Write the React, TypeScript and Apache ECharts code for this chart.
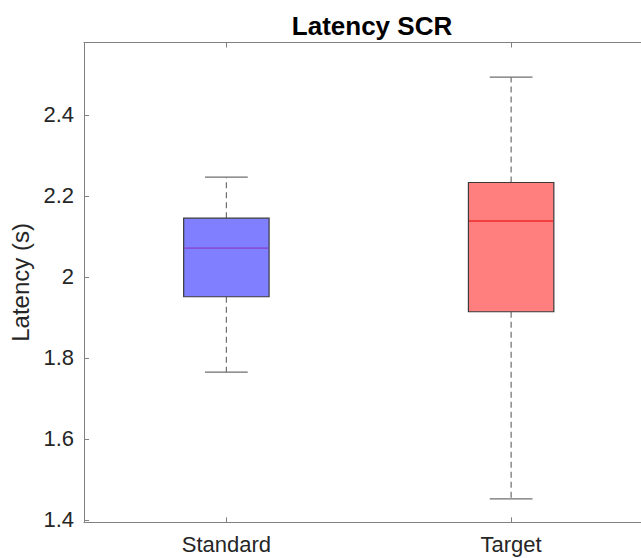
import React, { useEffect, useRef } from "react";
import * as echarts from "echarts";

const categories = ["Standard", "Target"];
// [low whisker, Q1, median, Q3, high whisker]
const standardStats = [1.765, 1.951, 2.071, 2.145, 2.246];
const targetStats = [1.452, 1.914, 2.138, 2.233, 2.493];
const yTicks = [1.4, 1.6, 1.8, 2.0, 2.2, 2.4];
const boxFills = ["#7f7fff", "#ff7f7f"];
const medianColors = ["#8a3fc4", "#ee2a2a"];

export default function App() {
  const ref = useRef<HTMLDivElement>(null);
  useEffect(() => {
    document.body.style.margin = "0";
    const chart = echarts.init(ref.current!, null, { renderer: "svg" });
    const data = [standardStats, targetStats].map((s, i) => [i, ...s]);
    const axisColor = "#808080";
    const labelColor = "#262626";
    const font = "Liberation Sans, Arial, sans-serif";
    chart.setOption({
      animation: false,
      title: {
        text: "Latency SCR",
        left: 367,
        top: 8,
        textAlign: "center",
        textStyle: { fontSize: 26, fontWeight: "bold", color: "#000", fontFamily: font },
      },
      grid: { left: 84, top: 42.5, width: 569.5, height: 479.8, outerBoundsMode: "none", containLabel: false },
      xAxis: [
        {
          type: "category",
          data: categories,
          position: "bottom",
          boundaryGap: true,
          axisLine: { show: true, lineStyle: { color: axisColor, width: 1 } },
          axisTick: { show: true, inside: true, alignWithLabel: true, length: 5, lineStyle: { color: axisColor } },
          axisLabel: { color: labelColor, fontSize: 22, fontFamily: font, margin: 11 },
          splitLine: { show: false },
        },
        {
          type: "category",
          data: categories,
          position: "top",
          boundaryGap: true,
          axisLine: { show: true, lineStyle: { color: axisColor, width: 1 } },
          axisTick: { show: true, inside: true, alignWithLabel: true, length: 5, lineStyle: { color: axisColor } },
          axisLabel: { show: false },
          splitLine: { show: false },
        },
      ],
      yAxis: [
        {
          type: "value",
          min: 1.3943,
          max: 2.5785,
          name: "Latency (s)",
          nameLocation: "middle",
          nameGap: 49,
          nameTextStyle: { fontSize: 24, color: labelColor, fontFamily: font },
          axisLine: { show: true, lineStyle: { color: axisColor, width: 1 } },
          axisTick: { show: true, inside: true, length: 5, customValues: yTicks, lineStyle: { color: axisColor } },
          axisLabel: {
            color: labelColor,
            fontSize: 22,
            fontFamily: font,
            margin: 10,
            customValues: yTicks,
            formatter: (v: number) => String(Math.round(v * 10) / 10),
          },
          splitLine: { show: false },
        },
      ],
      series: [
        {
          type: "custom",
          data,
          encode: { x: 0, y: [1, 2, 3, 4, 5] },
          renderItem: (params: any, api: any) => {
            const idx = api.value(0);
            const low = api.value(1);
            const q1 = api.value(2);
            const med = api.value(3);
            const q3 = api.value(4);
            const high = api.value(5);
            const band = api.size([1, 0])[0];
            const boxW = band * 0.3;
            const capW = band * 0.15;
            const [cx, yLow] = api.coord([idx, low]);
            const yQ1 = api.coord([idx, q1])[1];
            const yMed = api.coord([idx, med])[1];
            const yQ3 = api.coord([idx, q3])[1];
            const yHigh = api.coord([idx, high])[1];
            const dash = { stroke: "#6e6e6e", lineWidth: 1.2, lineDash: [6, 4] };
            const cap = { stroke: "#6e6e6e", lineWidth: 1.2 };
            return {
              type: "group",
              children: [
                { type: "line", shape: { x1: cx, y1: yQ3, x2: cx, y2: yHigh }, style: dash },
                { type: "line", shape: { x1: cx, y1: yQ1, x2: cx, y2: yLow }, style: dash },
                { type: "line", shape: { x1: cx - capW / 2, y1: yHigh, x2: cx + capW / 2, y2: yHigh }, style: cap },
                { type: "line", shape: { x1: cx - capW / 2, y1: yLow, x2: cx + capW / 2, y2: yLow }, style: cap },
                {
                  type: "rect",
                  shape: { x: cx - boxW / 2, y: yQ3, width: boxW, height: yQ1 - yQ3 },
                  style: { fill: boxFills[idx], stroke: "#3a3a3a", lineWidth: 1.2 },
                },
                {
                  type: "line",
                  shape: { x1: cx - boxW / 2 + 0.6, y1: yMed, x2: cx + boxW / 2 - 0.6, y2: yMed },
                  style: { stroke: medianColors[idx], lineWidth: 1.4 },
                },
              ],
            };
          },
        },
      ],
    });
    return () => chart.dispose();
  }, []);
  return <div ref={ref} style={{ position: "fixed", left: 0, top: 0, width: 641, height: 558, background: "#fff" }} />;
}
